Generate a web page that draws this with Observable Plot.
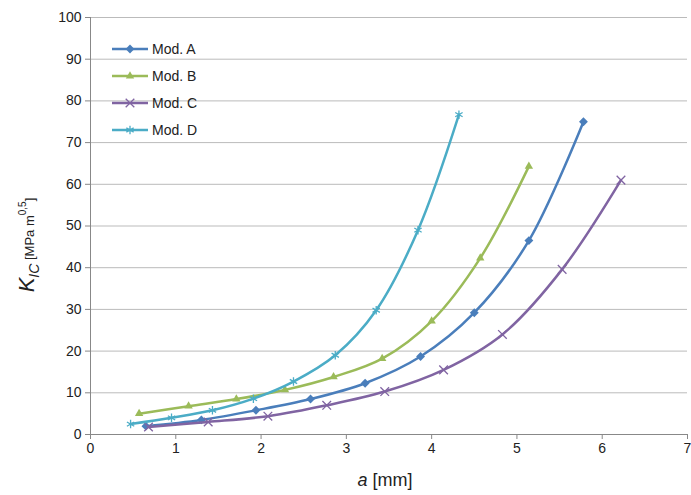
<!DOCTYPE html>
<html><head><meta charset="utf-8">
<script src="https://cdn.jsdelivr.net/npm/d3@7"></script>
<script src="https://cdn.jsdelivr.net/npm/@observablehq/plot@0.6"></script>
<style>body{margin:0;background:#fff;font-family:"Liberation Sans",Arial,sans-serif}</style>
</head><body><div id="chart"></div>
<script>
const series = ["Mod. A", "Mod. B", "Mod. C", "Mod. D"]
const colors = ["#4a7ebb", "#9bbb59", "#8064a2", "#4bacc6"]
const symbols = ["diamond2", "triangle2", "times", "asterisk"]
const aX = [0.65, 1.3, 1.94, 2.58, 3.22, 3.87, 4.5, 5.14, 5.78]
const aY = [2, 3.5, 5.8, 8.5, 12.3, 18.7, 29.2, 46.5, 75]
const bX = [0.57, 1.15, 1.71, 2.28, 2.85, 3.42, 4.0, 4.57, 5.14]
const bY = [5, 6.8, 8.5, 10.7, 13.8, 18.2, 27.2, 42.3, 64.3]
const cX = [0.68, 1.38, 2.08, 2.77, 3.45, 4.14, 4.83, 5.53, 6.22]
const cY = [1.8, 3, 4.4, 7, 10.3, 15.5, 24, 39.6, 61]
const dX = [0.47, 0.95, 1.43, 1.91, 2.38, 2.87, 3.35, 3.84, 4.32]
const dY = [2.5, 4, 5.8, 8.6, 12.7, 19, 29.8, 49, 76.7]
const xTicks = [0, 1, 2, 3, 4, 5, 6, 7]
const yTicks = [0, 10, 20, 30, 40, 50, 60, 70, 80, 90, 100]

const xs = [aX, bX, cX, dX], ys = [aY, bY, cY, dY]
const data = series.flatMap((s, i) => xs[i].map((x, j) => ({s, x, y: ys[i][j]})))

const marks = [
  Plot.gridY(yTicks, {stroke: "#bbb", strokeOpacity: 1}),
  Plot.ruleY([0], {stroke: "#888"}),
  Plot.ruleX([0], {stroke: "#888"}),
  Plot.axisX(xTicks, {tickSize: 5, tickPadding: 4, fontSize: 14, label: null, stroke: "#888"}),
  Plot.axisY(yTicks, {tickSize: 5, tickPadding: 4, fontSize: 14, label: null, stroke: "#888"})
]
series.forEach((s, i) => {
  const d = data.filter(r => r.s === s)
  marks.push(Plot.line(d, {x: "x", y: "y", stroke: colors[i], strokeWidth: 2.5, curve: "catmull-rom"}))
  const filled = i < 2
  marks.push(Plot.dot(d, {x: "x", y: "y", symbol: () => symbols[i], r: 4,
    fill: filled ? colors[i] : "none", stroke: colors[i], strokeWidth: filled ? 0 : 1.3}))
})

const chart = Plot.plot({
  width: 691, height: 495,
  marginLeft: 90, marginRight: 4, marginTop: 17, marginBottom: 61,
  style: {fontFamily: "Liberation Sans, Arial, sans-serif", color: "#222"},
  x: {domain: [0, 7]},
  y: {domain: [0, 100]},
  marks
})
const svg = d3.select(chart)
svg.append("text").attr("x", 385).attr("y", 486).attr("text-anchor", "middle")
  .attr("font-size", 18).html('<tspan font-style="italic">a</tspan> [mm]')
svg.append("text").attr("transform", "translate(34,245) rotate(-90)").attr("text-anchor", "middle")
  .attr("font-size", 20).html('<tspan font-style="italic" font-size="22">K</tspan><tspan font-style="italic" font-size="14" dy="5">IC</tspan><tspan font-size="13" dy="-5"> [MPa m</tspan><tspan font-size="10" dy="-8">0,5</tspan><tspan font-size="13" dy="8">]</tspan>')
// legend
const symMap = {diamond2: d3.symbolDiamond2, triangle2: d3.symbolTriangle2, times: d3.symbolTimes, asterisk: d3.symbolAsterisk}
const lg = svg.append("g").attr("transform", "translate(112,49)")
series.forEach((s, i) => {
  const g = lg.append("g").attr("transform", `translate(0,${i * 27})`)
  g.append("line").attr("x1", 0).attr("x2", 36).attr("stroke", colors[i]).attr("stroke-width", 2.5)
  g.append("path").attr("transform", "translate(18,0)")
    .attr("d", d3.symbol(symMap[symbols[i]], 50)())
    .attr("fill", i < 2 ? colors[i] : "none").attr("stroke", colors[i]).attr("stroke-width", i < 2 ? 0 : 1.3)
  g.append("text").attr("x", 40).attr("y", 5).attr("text-anchor", "start").attr("font-size", 14).text(s)
})
d3.select('#chart').append(() => chart)
</script></body></html>
